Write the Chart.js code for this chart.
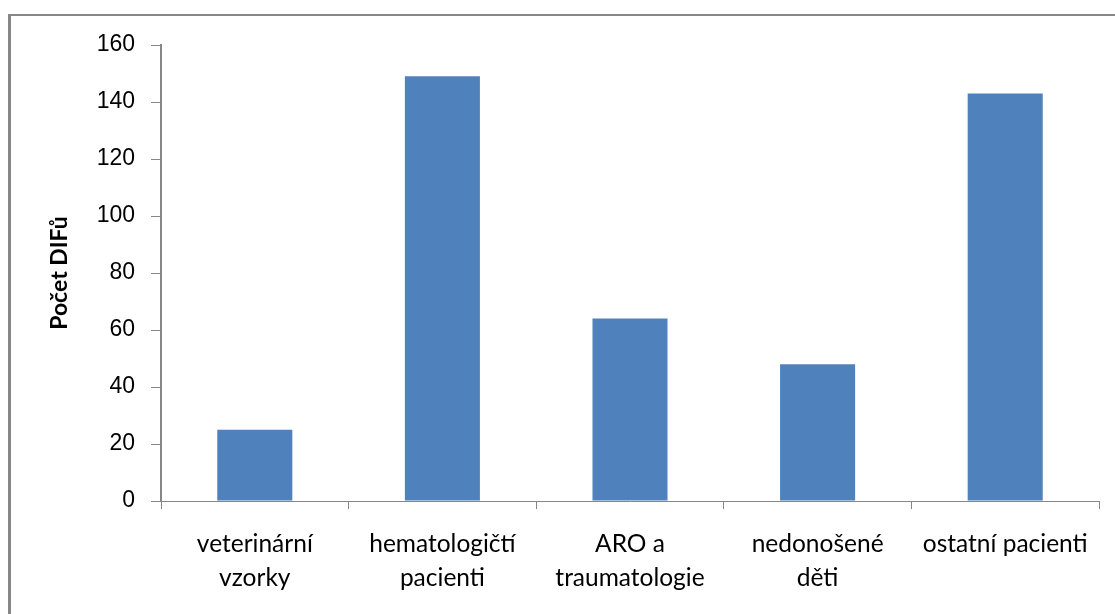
<!DOCTYPE html>
<html>
<head>
<meta charset="utf-8">
<script src="https://cdn.jsdelivr.net/npm/chart.js@4"></script>
<style>
  html, body { margin: 0; padding: 0; background: #ffffff; }
  #wrap { position: relative; width: 1115px; height: 614px; overflow: hidden; }
  #frame {
    position: absolute; left: 8px; top: 14px; width: 1200px; height: 700px;
    border-left: 3px solid #878787; border-top: 2px solid #878787;
    box-sizing: border-box;
  }
  canvas { position: absolute; left: 0; top: 0; }
</style>
</head>
<body>
<div id="wrap">
  <div id="frame"></div>
  <canvas id="chart" width="1115" height="614"></canvas>
</div>
<script>
// Skupiny vzorků a počty DIFů
const categories = [
  ['veterinární', 'vzorky'],
  ['hematologičtí', 'pacienti'],
  ['ARO a', 'traumatologie'],
  ['nedonošené', 'děti'],
  'ostatní pacienti'
];
const counts = [25, 149, 64, 48, 143];
const yTicks = [0, 20, 40, 60, 80, 100, 120, 140, 160];
const yTitle = 'Počet DIFů';

const axisGray = '#878787';

new Chart(document.getElementById('chart'), {
  type: 'bar',
  data: {
    labels: categories,
    datasets: [{
      data: counts,
      backgroundColor: '#4F81BD',
      borderWidth: 0,
      categoryPercentage: 1.0,
      barPercentage: 0.4
    }]
  },
  options: {
    responsive: false,
    animation: false,
    layout: { padding: { top: 45, right: 16, left: 0, bottom: 0 } },
    plugins: { legend: { display: false }, tooltip: { enabled: false } },
    scales: {
      x: {
        grid: { display: true, drawOnChartArea: false, drawTicks: true, tickLength: 8, color: axisGray, lineWidth: 1, offset: true },
        border: { display: true, color: axisGray, width: 1 },
        ticks: {
          color: '#000000',
          font: { family: 'Lato', size: 24.5, lineHeight: 1.35 },
          padding: 19,
          maxRotation: 0,
          autoSkip: false
        },
        afterFit: s => { s.height = 113; }
      },
      y: {
        min: 0, max: 160,
        afterBuildTicks: s => { s.ticks = yTicks.map(v => ({ value: v })); },
        grid: { display: true, drawOnChartArea: false, drawTicks: true, tickLength: 10, color: axisGray, lineWidth: 1 },
        border: { display: true, color: axisGray, width: 2 },
        ticks: {
          color: '#000000',
          font: { family: 'Liberation Sans', size: 23 },
          padding: 16
        },
        title: {
          display: true,
          text: yTitle,
          color: '#000000',
          font: { family: 'Lato', size: 23, weight: 'bold' },
          padding: { top: 46, bottom: 0 }
        },
        afterFit: s => { s.width = 161; }
      }
    }
  }
});
</script>
</body>
</html>
